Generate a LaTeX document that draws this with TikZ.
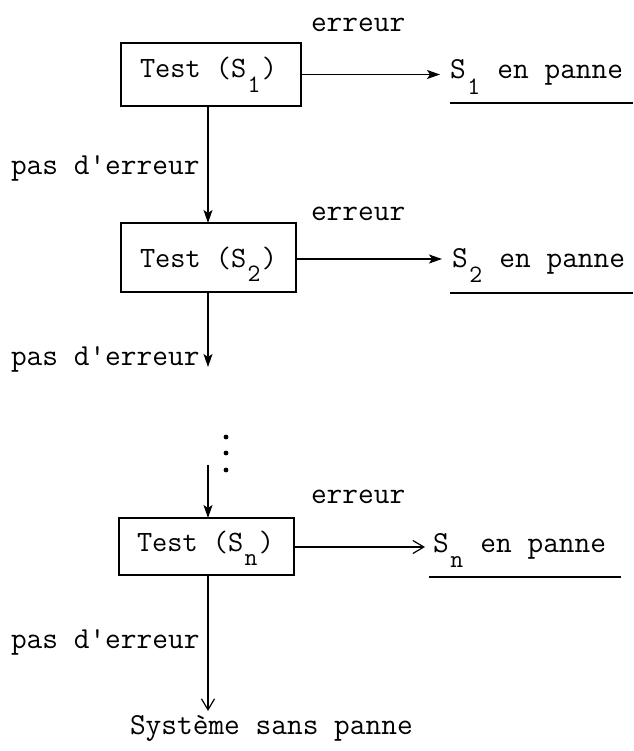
\documentclass[tikz,border=0pt]{standalone}
\usepackage{fontspec}
\usetikzlibrary{arrows.meta}
\newcommand\subsc[1]{\makebox[0.525em][c]{\raisebox{-0.5em}{\fontsize{25}{25}\selectfont #1}}}
\begin{document}
\begin{tikzpicture}[x=1pt,y=-1pt,
  txt/.style={font=\fontsize{30.5}{32}\ttfamily, inner sep=0pt, outer sep=0pt, anchor=base west},
  boxtxt/.style={txt, font=\fontsize{29.5}{32}\ttfamily},
  box/.style={draw, line width=1.3pt, inner sep=0pt, outer sep=0pt},
  ln/.style={line width=1.2pt},
  arrF/.style={ln, -{Stealth[length=13pt,width=9pt,inset=3pt]}},
  arrV/.style={ln, -{Straight Barb[length=11pt,width=13pt]}}]
\useasboundingbox (0,0) rectangle (633,751);
\coordinate (vx) at (208,0);
% ---- stage 1
\node[box, minimum width=180pt, minimum height=63pt] (b1) at (211,74.5) {};
\node[boxtxt] (t1) at (140,78) {Test (S\subsc{1})};
\node[txt] (err1) at (311,32) {erreur};
\coordinate (a1) at (440,74.5);
\node[txt] (p1) at (450,79) {S\subsc{1} en panne};
\coordinate (u1a) at (450,103);
\coordinate (u1b) at (633,103);
\node[txt] (ok1) at (11,175) {pas d'erreur};
% ---- stage 2
\node[box, minimum width=175pt, minimum height=69pt] (b2) at (208.5,257.5) {};
\node[boxtxt] (t2) at (140,267) {Test (S\subsc{2})};
\node[txt] (err2) at (311,220) {erreur};
\coordinate (a2) at (442,259);
\node[txt] (p2) at (452,267) {S\subsc{2} en panne};
\coordinate (u2a) at (450,293);
\coordinate (u2b) at (633,293);
\node[txt] (ok2) at (11,365) {pas d'erreur};
\coordinate (e2) at (208,367);
% ---- dots
\fill (226,437) circle (2.4pt);
\fill (226,453) circle (2.4pt);
\fill (226,470) circle (2.4pt);
\coordinate (s3) at (208,465);
% ---- stage n
\node[box, minimum width=175pt, minimum height=57pt] (bn) at (206.5,546.5) {};
\node[boxtxt] (tn) at (137,551) {Test (S\subsc{n})};
\node[txt] (errn) at (311,503) {erreur};
\coordinate (an) at (425,547);
\node[txt] (pn) at (433,552) {S\subsc{n} en panne};
\coordinate (una) at (429,577);
\coordinate (unb) at (621,577);
\node[txt] (okn) at (11,648) {pas d'erreur};
\coordinate (en) at (208,711);
\node[txt] (fin) at (130,734) {Système sans panne};
% ---- connectors
\draw[arrF] (b1.east) -- (a1);
\draw[ln] (u1a) -- (u1b);
\draw[arrF] (b1.south -| vx) -- (b2.north -| vx);
\draw[arrF] (b2.east |- a2) -- (a2);
\draw[ln] (u2a) -- (u2b);
\draw[arrF] (b2.south -| vx) -- (e2);
\draw[arrF] (s3) -- (bn.north -| vx);
\draw[arrV] (bn.east |- an) -- (an);
\draw[ln] (una) -- (unb);
\draw[arrV] (bn.south -| vx) -- (en);
\end{tikzpicture}
\end{document}
